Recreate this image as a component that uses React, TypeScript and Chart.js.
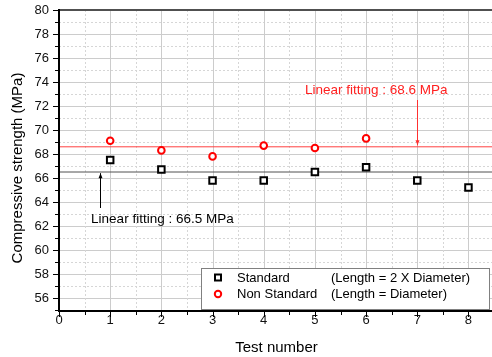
import React, { useEffect, useRef } from "react";
import { Chart, registerables } from "chart.js";

Chart.register(...registerables);

const standardTests = [1, 2, 3, 4, 5, 6, 7, 8];
const standardValues = [67.5, 66.7, 65.8, 65.8, 66.5, 66.9, 65.8, 65.2];
const nonStandardTests = [1, 2, 3, 4, 5, 6];
const nonStandardValues = [69.1, 68.3, 67.8, 68.7, 68.5, 69.3];
const standardFit = 66.5;
const nonStandardFit = 68.6;
const fitSpan = [0, 8.6];

const xMin = 0;
const xMax = 8.46;
const yMin = 55;
const yMax = 80;

const legendLabels = ["Standard", "Non Standard"];
const legendNotes = ["(Length = 2 X Diameter)", "(Length = Diameter)"];

const FONT = '"Liberation Sans", Arial, sans-serif';

const areaPlugin = {
  id: "areaFix",
  afterLayout(chart: any) {
    const xs = chart.scales.x;
    const target = chart.width;
    chart.chartArea.right = target;
    chart.chartArea.width = target - chart.chartArea.left;
    xs.right = target;
    xs.width = target - xs.left;
    xs.configure();
  },
};

const overlayPlugin = {
  id: "overlay",
  beforeDatasetsDraw(chart: any) {
    const { ctx, chartArea, scales } = chart;
    const { left, right, top, bottom } = chartArea;
    const xs = scales.x;
    const ys = scales.y;
    ctx.save();
    ctx.lineWidth = 1;
    for (let v = yMin + 1; v < yMax; v += 1) {
      const py = Math.round(ys.getPixelForValue(v)) + 0.5;
      const major = v % 2 === 0;
      ctx.strokeStyle = major ? "#cccccc" : "#d6d6d6";
      ctx.setLineDash(major ? [] : [2, 2]);
      ctx.beginPath();
      ctx.moveTo(left, py);
      ctx.lineTo(right, py);
      ctx.stroke();
    }
    for (let v = xMin + 0.5; v < xMax; v += 0.5) {
      const px = Math.round(xs.getPixelForValue(v)) + 0.5;
      const major = Number.isInteger(v);
      ctx.strokeStyle = major ? "#cccccc" : "#d6d6d6";
      ctx.setLineDash(major ? [] : [2, 2]);
      ctx.beginPath();
      ctx.moveTo(px, top);
      ctx.lineTo(px, bottom);
      ctx.stroke();
    }
    ctx.restore();
  },
  afterDatasetsDraw(chart: any) {
    const { ctx, chartArea, scales } = chart;
    const { left, right, top, bottom } = chartArea;
    const xs = scales.x;
    const ys = scales.y;
    ctx.save();
    ctx.setLineDash([]);

    const arrow = (x: number, y1: number, y2: number, color: string) => {
      const px = Math.round(xs.getPixelForValue(x)) + 0.5;
      const p1 = ys.getPixelForValue(y1);
      const p2 = ys.getPixelForValue(y2);
      ctx.strokeStyle = color;
      ctx.fillStyle = color;
      ctx.lineWidth = 1;
      ctx.beginPath();
      ctx.moveTo(px, p1);
      ctx.lineTo(px, p2);
      ctx.stroke();
      const dir = p2 > p1 ? 1 : -1;
      ctx.beginPath();
      ctx.moveTo(px, p2);
      ctx.lineTo(px - 2, p2 - dir * 5);
      ctx.lineTo(px + 2, p2 - dir * 5);
      ctx.closePath();
      ctx.fill();
    };
    arrow(7, 72.5, nonStandardFit + 0.12, "#ff3030");
    arrow(0.8, 63.5, standardFit - 0.1, "#000000");

    ctx.font = "13.5px " + FONT;
    ctx.textAlign = "center";
    ctx.textBaseline = "middle";
    ctx.fillStyle = "#ff2020";
    ctx.fillText("Linear fitting : " + nonStandardFit.toFixed(1) + " MPa", xs.getPixelForValue(6.2), ys.getPixelForValue(73.35));
    ctx.fillStyle = "#000000";
    ctx.fillText("Linear fitting : " + standardFit.toFixed(1) + " MPa", xs.getPixelForValue(2.02), ys.getPixelForValue(62.6));

    const lx = 201.5, ly = 268.5, lw = 288, lh = 41;
    ctx.fillStyle = "#ffffff";
    ctx.fillRect(lx, ly, lw, lh);
    ctx.strokeStyle = "#808080";
    ctx.lineWidth = 1;
    ctx.strokeRect(lx, ly, lw, lh);
    ctx.lineWidth = 2;
    ctx.strokeStyle = "#000000";
    ctx.strokeRect(215, 274.5, 6, 6);
    ctx.strokeStyle = "#ff0000";
    ctx.beginPath();
    ctx.arc(218, 294, 3.2, 0, Math.PI * 2);
    ctx.stroke();
    ctx.font = "13px " + FONT;
    ctx.textAlign = "left";
    ctx.fillStyle = "#000000";
    ctx.fillText(legendLabels[0], 237, 278);
    ctx.fillText(legendLabels[1], 237, 294.5);
    ctx.fillText(legendNotes[0], 331, 278);
    ctx.fillText(legendNotes[1], 331, 294.5);

    ctx.lineWidth = 2;
    ctx.strokeStyle = "#505050";
    ctx.beginPath();
    ctx.moveTo(left, top);
    ctx.lineTo(right, top);
    ctx.stroke();
    ctx.strokeStyle = "#000000";
    ctx.beginPath();
    ctx.moveTo(left, top - 1);
    ctx.lineTo(left, bottom + 1);
    ctx.lineTo(right, bottom + 1);
    ctx.stroke();

    ctx.lineWidth = 1;
    for (let v = yMin; v <= yMax; v += 1) {
      const py = Math.round(ys.getPixelForValue(v)) + 0.5;
      const len = v % 2 === 0 ? 5 : 3;
      ctx.beginPath();
      ctx.moveTo(left - 1 - len, py);
      ctx.lineTo(left - 1, py);
      ctx.stroke();
    }
    for (let v = xMin; v <= xMax; v += 0.5) {
      const px = Math.round(xs.getPixelForValue(v)) + 0.5;
      const len = Number.isInteger(v) ? 5 : 3;
      ctx.beginPath();
      ctx.moveTo(px, bottom + 2);
      ctx.lineTo(px, bottom + 2 + len);
      ctx.stroke();
    }

    ctx.font = "15px " + FONT;
    ctx.fillStyle = "#000000";
    ctx.textAlign = "center";
    ctx.textBaseline = "middle";
    ctx.fillText("Test number", (233 + 320) / 2, 348);
    ctx.save();
    ctx.translate(18, 168);
    ctx.rotate(-Math.PI / 2);
    ctx.fillText("Compressive strength (MPa)", 0, 0);
    ctx.restore();

    ctx.restore();
  },
};

export default function App() {
  const ref = useRef<HTMLCanvasElement | null>(null);
  useEffect(() => {
    document.body.style.margin = "0";
    const canvas = ref.current!;
    const chart = new Chart(canvas, {
      type: "scatter",
      data: {
        datasets: [
          {
            type: "line",
            label: "fitNon",
            data: fitSpan.map((x) => ({ x, y: nonStandardFit })),
            borderColor: "#ff4040",
            borderWidth: 1,
            pointRadius: 0,
            order: 3,
          } as any,
          {
            type: "line",
            label: "fitStd",
            data: fitSpan.map((x) => ({ x, y: standardFit })),
            borderColor: "#505050",
            borderWidth: 1,
            pointRadius: 0,
            order: 3,
          } as any,
          {
            label: legendLabels[0],
            data: standardTests.map((x, i) => ({ x, y: standardValues[i] })),
            pointStyle: "rect",
            pointRadius: 4.6,
            borderWidth: 2,
            borderColor: "#000000",
            backgroundColor: "#ffffff",
            order: 1,
          },
          {
            label: legendLabels[1],
            data: nonStandardTests.map((x, i) => ({ x, y: nonStandardValues[i] })),
            pointStyle: "circle",
            pointRadius: 3.3,
            borderWidth: 2,
            borderColor: "#ff0000",
            backgroundColor: "#ffffff",
            order: 1,
          },
        ],
      },
      options: {
        responsive: false,
        animation: false,
        devicePixelRatio: 1,
        layout: { padding: { top: 10, left: 0, right: 0, bottom: 0 } },
        plugins: { legend: { display: false }, tooltip: { enabled: false } },
        scales: {
          x: {
            type: "linear",
            min: xMin,
            max: xMax,
            grid: { display: false, drawTicks: false },
            border: { display: false },
            ticks: {
              stepSize: 0.5,
              includeBounds: false,
              autoSkip: false,
              maxRotation: 0,
              padding: 3,
              color: "#111111",
              font: { family: FONT, size: 13 },
              callback: (v: any) => (Number.isInteger(v) ? String(v) : ""),
            },
            afterFit: (s: any) => {
              s.height = 47;
              s.paddingLeft = 0;
              s.paddingRight = 0;
            },
          },
          y: {
            type: "linear",
            min: yMin,
            max: yMax,
            grid: { display: false, drawTicks: false },
            border: { display: false },
            ticks: {
              stepSize: 1,
              autoSkip: false,
              padding: 10,
              color: "#111111",
              font: { family: FONT, size: 13 },
              callback: (v: any) => (v % 2 === 0 ? String(v) : ""),
            },
            afterFit: (s: any) => {
              s.width = 59;
              s.paddingTop = 0;
              s.paddingBottom = 0;
            },
          },
        },
      } as any,
      plugins: [areaPlugin, overlayPlugin],
    });
    return () => chart.destroy();
  }, []);
  return (
    <div style={{ width: 492, height: 357 }}>
      <canvas ref={ref} width={492} height={357} style={{ display: "block", width: 492, height: 357 }} />
    </div>
  );
}
